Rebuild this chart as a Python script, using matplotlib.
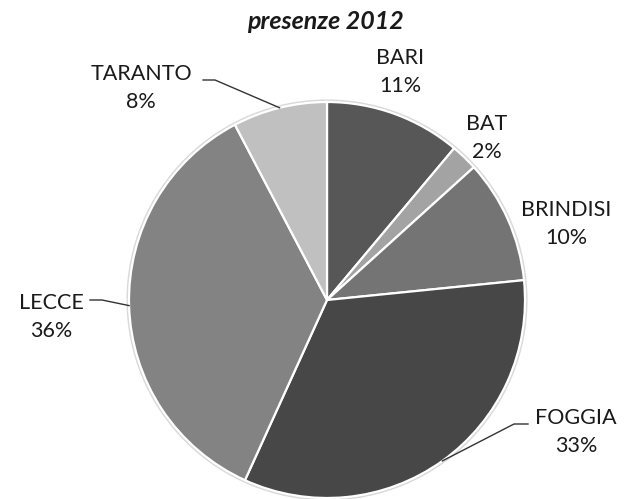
import numpy as np
import matplotlib
matplotlib.use('Agg')
import matplotlib.pyplot as plt

# data (share of "presenze" 2012)
regions = ['BARI', 'BAT', 'BRINDISI', 'FOGGIA', 'LECCE', 'TARANTO']
values = [11.1, 2.2, 10.1, 33.4, 35.5, 7.7]
colors = ['#575757', '#a3a3a3', '#747474', '#474747', '#838383', '#c0c0c0']

W, H = 626, 499
fig = plt.figure(figsize=(W/100., H/100.), dpi=100)
ax = fig.add_axes([0, 0, 1, 1])

cx, cy, r = 327, H-300, 198
wedges, _ = ax.pie(values, colors=colors, startangle=90, counterclock=False,
                   center=(cx, cy), radius=r, frame=True,
                   wedgeprops=dict(edgecolor='white', linewidth=1.6))
ax.set_xlim(0, W)
ax.set_ylim(0, H)
ax.set_aspect('equal')
ax.axis('off')

# faint outline like the original
circ = plt.Circle((cx, cy), r+1.5, fill=False, ec='#d9d9d9', lw=1.5, zorder=0)
ax.add_patch(circ)

total = float(sum(values))
pcts = [int(round(100*v/total)) for v in values]

# label block centres (pixels from the top)
label_pos = {'BARI': (400, 72), 'BAT': (487, 138), 'BRINDISI': (566, 224),
             'FOGGIA': (576, 432), 'LECCE': (51, 317), 'TARANTO': (141, 88)}
# leader line start (pixels) and short horizontal end
leaders = {'TARANTO': ((203, 80), (215, 80)),
           'LECCE': ((90, 300), (102, 300)),
           'FOGGIA': ((528, 424), (514, 424))}

font = dict(family=['Lato', 'DejaVu Sans'], size=15.5, color='#1a1a1a')
for w, name, p in zip(wedges, regions, pcts):
    x, y = label_pos[name]
    ax.text(x, H-y, '%s\n%d%%' % (name, p), ha='center', va='center',
            linespacing=1.5, **font)
    if name in leaders:
        mid = np.deg2rad(0.5*(w.theta1 + w.theta2))
        ex, ey = cx + r*np.cos(mid), cy + r*np.sin(mid)
        (x0, y0), (x1, y1) = leaders[name]
        ax.plot([x0, x1, ex], [H-y0, H-y1, ey], color='#333333', lw=1.0)

ax.text(325, H-21, 'presenze 2012', ha='center', va='center',
        fontsize=18, fontweight='bold', fontstyle='italic',
        family=['Lato', 'DejaVu Sans'], color='#1a1a1a')

fig.savefig('out.png', dpi=100)
